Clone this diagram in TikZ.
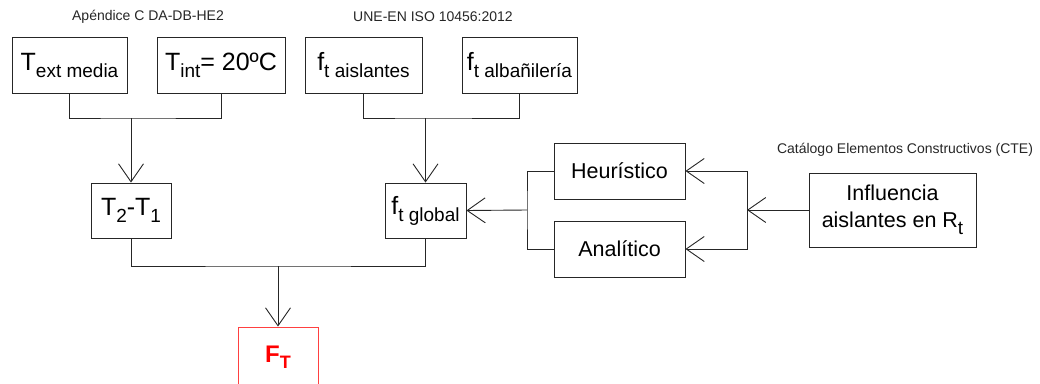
\documentclass[tikz,border=0pt]{standalone}
\usepackage{fontspec}
\setmainfont{Liberation Sans}
\usetikzlibrary{arrows.meta, positioning}
\newcommand{\sbs}[1]{\raisebox{-7pt}{\fontsize{19}{19}\selectfont #1}}

\begin{document}
\begin{tikzpicture}[x=1pt,y=-1pt,line width=0.9pt,
   box/.style={draw=black!85, line width=0.9pt, inner sep=0pt, minimum height=56pt,
      font=\fontsize{25}{27}\selectfont},
   method/.style={box, minimum width=131pt, font=\fontsize{21.5}{24}\selectfont},
   note/.style={font=\fontsize{14}{16}\selectfont, text=black!85},
   arr/.style={-{Straight Barb[length=18pt,width=25pt,line width=0.9pt]}}]
   \useasboundingbox (0,0) rectangle (1040,383);
   \node[box, minimum width=115pt] (t_ext) at (69.5,65) {T\sbs{ext media}};
   \node[box, minimum width=128pt] (t_int) at (221,65) {T\sbs{int}= 20ºC};
   \node[box, minimum width=117pt] (f_ais) at (363.5,65) {f\sbs{t aislantes}};
   \node[box, minimum width=115pt] (f_alb) at (519.5,65) {f\sbs{t albañilería}};
   \node[note] (n_he2) at (148,17) {Apéndice C DA-DB-HE2};
   \node[note] (n_une) at (433,17) {UNE-EN ISO 10456:2012};
   \node[box, minimum width=80pt, minimum height=55pt] (t_21) at (131,210.5) {T\sbs{2}-T\sbs{1}};
   \node[box, minimum width=81pt, minimum height=55pt] (f_glob) at (425.5,210.5) {f\sbs{t global}};
   \node[method] (heur) at (619.5,171) {Heurístico};
   \node[method] (anal) at (619.5,249) {Analítico};
   \node[box, minimum width=167pt, minimum height=74pt, align=center,
      font=\fontsize{21.5}{27}\selectfont] (infl) at (892.5,210) {Influencia\\aislantes en R\sbs{t}};
   \node[note] (n_cte) at (905,150) {Catálogo Elementos Constructivos (CTE)};
   \node[draw=red!75, line width=0.9pt, minimum width=80pt, minimum height=60pt,
      text=red, font=\bfseries\fontsize{24}{26}\selectfont] (f_t) at (278,357)
      {F\raisebox{-6pt}{\fontsize{18}{18}\selectfont T}};
   \coordinate (j_t) at (131,118);
   \coordinate (j_f) at (425.5,118);
   \coordinate (j_b) at (278,266);
   \coordinate (j_l) at (527,210);
   \coordinate (j_r) at (747,210);
   \draw[draw=black!85] (t_ext.south) |- (j_t) -| (t_int.south);
   \draw[draw=black!85, arr] (j_t) -- (t_21.north);
   \draw[draw=black!85] (f_ais.south) |- (j_f) -| (f_alb.south);
   \draw[draw=black!85, arr] (j_f) -- (f_glob.north);
   \draw[draw=black!85] (t_21.south) |- (j_b) -| (f_glob.south);
   \draw[draw=black!85, arr] (j_b) -- (f_t.north);
   \draw[draw=black!85] (heur.west) -| (j_l) |- (anal.west);
   \draw[draw=black!85, arr] (j_l) -- (f_glob.east);
   \draw[draw=black!85, arr] (infl.west) -- (j_r);
   \draw[draw=black!85, arr] (j_r) |- (heur.east);
   \draw[draw=black!85, arr] (j_r) |- (anal.east);
\end{tikzpicture}
\end{document}
